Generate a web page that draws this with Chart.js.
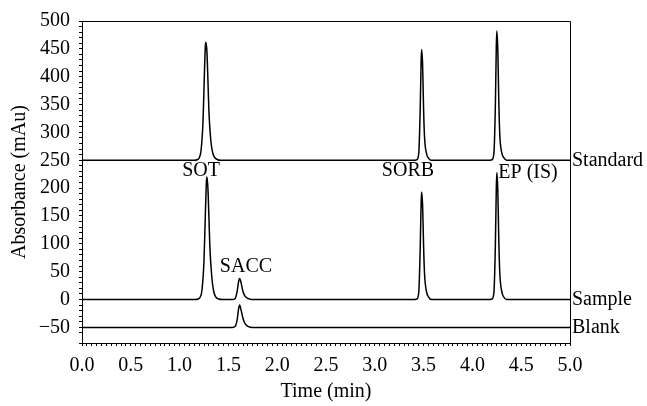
<!DOCTYPE html>
<html>
<head>
<meta charset="utf-8">
<script src="https://cdn.jsdelivr.net/npm/chart.js@4"></script>
<style>
  html, body { margin: 0; padding: 0; background: #fff; }
  #wrap { width: 647px; height: 406px; }
</style>
</head>
<body>
<div id="wrap"><canvas id="chromChart"></canvas></div>
<script>
// Chromatogram values (time in min, absorbance in mAu)
const standardTime = [0, 1.15, 1.18, 1.20, 1.22, 1.24, 1.255, 1.265, 1.27, 1.28, 1.29, 1.30, 1.32, 1.34, 1.36, 1.39, 1.42,
    3.40, 3.43, 3.45, 3.465, 3.475, 3.48, 3.49, 3.50, 3.51, 3.53, 3.55, 3.58,
    4.17, 4.20, 4.22, 4.235, 4.245, 4.25, 4.26, 4.27, 4.28, 4.30, 4.32, 4.35, 5.0];
const standardAbs = [250, 250, 251, 254, 268, 320, 410, 458, 462, 445, 395, 340, 285, 263, 255, 251, 250,
    250, 251, 262, 340, 430, 449, 420, 340, 290, 262, 254, 250,
    250, 251, 262, 345, 455, 482, 450, 360, 298, 264, 255, 250, 250];

const sampleTime = [0, 1.16, 1.19, 1.21, 1.23, 1.25, 1.265, 1.275, 1.28, 1.29, 1.30, 1.31, 1.33, 1.35, 1.37, 1.40, 1.44,
    1.54, 1.57, 1.59, 1.605, 1.615, 1.63, 1.65, 1.67, 1.70, 1.74,
    3.40, 3.43, 3.45, 3.465, 3.475, 3.48, 3.49, 3.50, 3.51, 3.53, 3.55, 3.58,
    4.17, 4.20, 4.22, 4.235, 4.245, 4.25, 4.26, 4.27, 4.28, 4.30, 4.32, 4.35, 5.0];
const sampleAbs = [0, 0, 1, 4, 18, 70, 160, 212, 220, 200, 150, 95, 40, 14, 5, 1, 0,
    0, 2, 15, 33, 38, 30, 14, 6, 2, 0,
    0, 1, 12, 90, 175, 193, 168, 95, 45, 14, 5, 0,
    0, 1, 12, 95, 200, 228, 198, 110, 50, 15, 5, 0, 0];

const blankTime = [0, 1.54, 1.57, 1.59, 1.605, 1.615, 1.63, 1.65, 1.67, 1.70, 1.75, 5.0];
const blankAbs = [-50, -50, -48, -36, -16, -10, -19, -34, -43, -48, -50, -50];

// trace names (right side) and peak names
const traceNames = ['Standard', 'Sample', 'Blank'];
const traceBase = [250, 0, -50];
const peakNames = ['SOT', 'SACC', 'SORB', 'EP (IS)'];
const peakTime = [1.22, 1.68, 3.34, 4.57];
const peakAbs = [232, 59, 232, 227];

const FONT = '"Liberation Serif", "DejaVu Serif", serif';
const SIZE = 20;

function toPoints(xs, ys) {
    return xs.map((x, i) => ({ x: x, y: ys[i] }));
}

function trace(label, xs, ys) {
    return {
        label: label,
        data: toPoints(xs, ys),
        borderColor: '#000',
        borderWidth: 1.5,
        pointRadius: 0,
        fill: false,
        cubicInterpolationMode: 'monotone'
    };
}

// frame on top/right plus the text labels
const labelPlugin = {
    id: 'labels',
    afterDraw(chart) {
        const ctx = chart.ctx;
        const a = chart.chartArea;
        const xs = chart.scales.x;
        const ys = chart.scales.y;
        ctx.save();
        ctx.strokeStyle = '#000';
        ctx.lineWidth = 1;
        ctx.beginPath();
        ctx.moveTo(a.left, a.top + 0.5);
        ctx.lineTo(a.right + 0.5, a.top + 0.5);
        ctx.lineTo(a.right + 0.5, a.bottom);
        ctx.stroke();

        ctx.fillStyle = '#000';
        ctx.font = SIZE + 'px ' + FONT;
        ctx.textBaseline = 'middle';
        ctx.textAlign = 'left';
        traceNames.forEach((n, i) => {
            ctx.fillText(n, a.right + 2, ys.getPixelForValue(traceBase[i]));
        });
        ctx.textAlign = 'center';
        peakNames.forEach((n, i) => {
            ctx.fillText(n, xs.getPixelForValue(peakTime[i]), ys.getPixelForValue(peakAbs[i]));
        });
        ctx.restore();
    }
};

const chromCtx = document.getElementById('chromChart').getContext('2d');
const chromChart = new Chart(chromCtx, {
    type: 'line',
    data: {
        datasets: [
            trace('Standard', standardTime, standardAbs),
            trace('Sample', sampleTime, sampleAbs),
            trace('Blank', blankTime, blankAbs)
        ]
    },
    options: {
        responsive: true,
        maintainAspectRatio: false,
        animation: false,
        layout: {
            padding: { left: 4, right: 77, top: 20, bottom: 0 }
        },
        plugins: {
            legend: { display: false },
            tooltip: { enabled: false }
        },
        scales: {
            x: {
                type: 'linear',
                min: 0,
                max: 5,
                afterFit: s => { s.height = 63; },
                grid: { display: true, drawOnChartArea: false, tickLength: 3, color: '#000' },
                border: { display: true, color: '#000', width: 1 },
                ticks: {
                    stepSize: 0.05,
                    autoSkip: false,
                    maxRotation: 0,
                    padding: 8,
                    color: '#000',
                    font: { family: FONT, size: SIZE },
                    callback: v => (Math.round(v * 20) % 10 === 0 ? Number(v).toFixed(1) : '')
                },
                title: {
                    display: true,
                    text: 'Time (min)',
                    color: '#000',
                    font: { family: FONT, size: SIZE },
                    padding: { top: 2, bottom: 2 }
                }
            },
            y: {
                min: -78,
                max: 500,
                afterFit: s => { s.width = 78; },
                grid: { display: true, drawOnChartArea: false, tickLength: 3, color: '#000' },
                border: { display: true, color: '#000', width: 1 },
                ticks: {
                    stepSize: 10,
                    autoSkip: false,
                    padding: 9,
                    color: '#000',
                    font: { family: FONT, size: SIZE },
                    callback: v => (Math.round(v) % 50 === 0 ? (v < 0 ? '\u2212' + Math.abs(v) : String(v)) : '')
                },
                title: {
                    display: true,
                    text: 'Absorbance (mAu)',
                    color: '#000',
                    font: { family: FONT, size: SIZE },
                    padding: { top: 4, bottom: 4 }
                }
            }
        }
    },
    plugins: [labelPlugin]
});
</script>
</body>
</html>
